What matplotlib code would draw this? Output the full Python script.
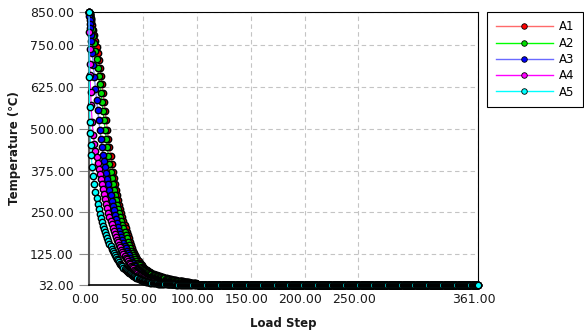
import matplotlib
matplotlib.use('Agg')
import matplotlib.pyplot as plt
from matplotlib.lines import Line2D
from matplotlib.transforms import ScaledTranslation

plt.rcParams['font.family'] = ['DejaVu Sans']

# ---------------- data ----------------
series_names = ['A1', 'A2', 'A3', 'A4', 'A5']
marker_colors = ['#ff0000', '#00dd00', '#0000ff', '#ff00ff', '#00ffff']
line_colors = ['#ff6a6a', '#00ff00', '#6a6aff', '#ff00ff', '#00ffff']

head_steps = [0, 0.25, 0.5, 0.75, 1, 1.5] + list(range(2, 101))
tail_steps = list(range(101, 362))

a1_head = [850, 848, 846, 843, 840, 833, 825,
           811, 796, 780, 763, 745, 726, 705, 683, 659, 634,
           608, 581, 553, 525, 497, 470, 444, 419, 395, 372,
           352, 334, 317, 301, 286, 272, 259, 247, 235, 224,
           213, 202, 192, 182, 172, 162, 152, 143, 135, 128,
           121, 115, 109, 104, 99, 95, 91, 87, 84, 81,
           78, 76, 74, 72, 70, 68, 66, 65, 63, 62,
           61, 60, 59, 58, 57, 56, 55, 54, 53, 52,
           51, 50, 49.5, 49, 48, 47, 46.5, 46, 45.5, 45,
           44.5, 44, 43.5, 43, 42.5, 42, 41.5, 41, 40.5, 40,
           39.5, 39, 38.5, 38, 37.5, 37, 36.5, 36]

a2_head = [850, 847, 844, 841, 837, 829, 820,
           798, 779, 757, 733, 708, 683, 659, 634, 608, 581,
           553, 525, 497, 470, 444, 419, 395, 372, 352, 334,
           317, 301, 286, 272, 259, 247, 235, 224, 213, 202,
           192, 182, 172, 162, 152, 143, 135, 128, 121, 115,
           109, 104, 99, 95, 91, 87, 84, 81, 78, 76,
           74, 72, 70, 68, 66, 65, 63, 62, 61, 60,
           59, 58, 57, 56, 55, 54, 53, 52, 51, 50,
           49.5, 49, 48, 47, 46.5, 46, 45.5, 45, 44.5, 44,
           43.5, 43, 42.5, 42, 41.5, 41, 40.5, 40, 39.5, 39,
           38.5, 38, 37.5, 37, 36.5, 36, 35.5, 35]

a3_head = [850, 838, 826, 814, 802, 780, 762,
           728, 692, 655, 620, 587, 555, 525, 497, 470, 445,
           423, 403, 385, 368, 351, 334, 317, 301, 285, 270,
           256, 243, 230, 218, 206, 195, 185, 175, 166, 158,
           150, 142, 135, 128, 121, 114, 108, 102, 97, 92,
           88, 84, 80, 77, 74, 71, 68, 65, 62, 60,
           58, 56, 54, 52, 51, 49, 48, 47, 46, 45,
           44, 43, 42, 41, 40.5, 40, 39.5, 39, 38.5, 38,
           37.5, 37, 36.8, 36.5, 36.2, 36, 35.8, 35.5, 35.3, 35,
           35, 34.8, 34.6, 34.5, 34.4, 34.3, 34.2, 34, 34, 34,
           33.9, 33.8, 33.7, 33.6, 33.5, 33.5, 33.5, 33.5]

a4_head = [850, 790, 740, 695, 660, 610, 570,
           520, 482, 455, 435, 415, 397, 380, 364, 349, 334,
           319, 304, 290, 276, 262, 249, 237, 225, 214, 204,
           194, 185, 176, 168, 160, 152, 145, 138, 132, 126,
           120, 114, 109, 104, 99, 94, 90, 86, 82, 78,
           75, 72, 69, 66, 63, 61, 59, 57, 55, 53,
           51, 50, 48, 47, 46, 45, 44, 43, 42, 41,
           40.5, 40, 39.5, 39, 38.5, 38, 37.5, 37, 36.8, 36.5,
           36.2, 36, 35.8, 35.5, 35.3, 35, 35, 35, 34.8, 34.5,
           34.5, 34.5, 34.3, 34, 34, 34, 34, 34, 33.8, 33.5,
           33.5, 33.5, 33.5, 33.5, 33.5, 33.5, 33.5, 33.5]

a5_head = [850, 655, 566, 520, 487, 450, 421,
           385, 358, 335, 311, 292, 275, 260, 245, 232, 220,
           209, 199, 190, 181, 172, 164, 156, 148, 141, 135,
           129, 123, 117, 111, 106, 101, 96, 92, 88, 84,
           81, 78, 75, 72, 69, 67, 64, 62, 60, 58,
           56, 54, 52, 51, 49, 48, 47, 45, 44, 43,
           42, 41, 40, 39.5, 39, 38.5, 38, 37.5, 37.2, 37,
           36.5, 36, 35.8, 35.5, 35.2, 35, 34.8, 34.5, 34.3, 34,
           34, 34, 33.8, 33.5, 33.5, 33.5, 33.5, 33.5, 33.3, 33,
           33, 33, 33, 33, 33, 33, 33, 33, 33, 33,
           33, 33, 33, 33, 33, 33, 33, 33]

tail_temp = [33, 33, 33, 33, 33, 33, 33, 33, 33, 33, 33, 33, 33, 33, 33, 33, 33, 33, 33, 33,
             33, 33, 33, 33, 33, 33, 33, 33, 33, 33, 33, 33, 33, 33, 33, 33, 33, 33, 33, 33,
             33, 33, 33, 33, 33, 33, 33, 33, 33, 33, 33, 33, 33, 33, 33, 33, 33, 33, 33, 33,
             33, 33, 33, 33, 33, 33, 33, 33, 33, 33, 33, 33, 33, 33, 33, 33, 33, 33, 33, 33,
             33, 33, 33, 33, 33, 33, 33, 33, 33, 33, 33, 33, 33, 33, 33, 33, 33, 33, 33, 33,
             33, 33, 33, 33, 33, 33, 33, 33, 33, 33, 33, 33, 33, 33, 33, 33, 33, 33, 33, 33,
             33, 33, 33, 33, 33, 33, 33, 33, 33, 33, 33, 33, 33, 33, 33, 33, 33, 33, 33, 33,
             33, 33, 33, 33, 33, 33, 33, 33, 33, 33, 33, 33, 33, 33, 33, 33, 33, 33, 33, 33,
             33, 33, 33, 33, 33, 33, 33, 33, 33, 33, 33, 33, 33, 33, 33, 33, 33, 33, 33, 33,
             33, 33, 33, 33, 33, 33, 33, 33, 33, 33, 33, 33, 33, 33, 33, 33, 33, 33, 33, 33,
             33, 33, 33, 33, 33, 33, 33, 33, 33, 33, 33, 33, 33, 33, 33, 33, 33, 33, 33, 33,
             33, 33, 33, 33, 33, 33, 33, 33, 33, 33, 33, 33, 33, 33, 33, 33, 33, 33, 33, 33,
             33, 33, 33, 33, 33, 33, 33, 33, 33, 33, 33, 33, 33, 33, 33, 33, 33, 33, 33, 33,
             33]

x_ticks = [0, 50, 100, 150, 200, 250, 361]
y_ticks = [32, 125, 250, 375, 500, 625, 750, 850]
x_label = 'Load Step'
y_label = 'Temperature (\u2103)'

heads = [a1_head, a2_head, a3_head, a4_head, a5_head]

# ---------------- figure ----------------
W, H = 584, 333
fig = plt.figure(figsize=(W / 100, H / 100), dpi=100)
ax = fig.add_axes([89 / W, 1 - 285 / H, 389 / W, 273 / H])

steps = head_steps + tail_steps
for i, (name, head) in enumerate(zip(series_names, heads)):
    temps = head + tail_temp
    ax.plot(steps, temps, color=line_colors[i], lw=0.8, marker='o', ms=4.6,
            mfc=marker_colors[i], mec='black', mew=1.0, clip_on=False,
            zorder=3 + i, label=name)

ax.set_xlim(0, 361)
ax.set_ylim(32, 850)
ax.set_xticks(x_ticks)
ax.set_xticklabels([f'{v:.2f}' for v in x_ticks])
ax.set_yticks(y_ticks)
ax.set_yticklabels([f'{v:.2f}' for v in y_ticks])

ax.tick_params(axis='y', length=7, width=0.8, color='#8a8a8a', pad=4,
               labelsize=9, labelcolor='#1a1a1a')
ax.tick_params(axis='x', length=0, pad=6, labelsize=9, labelcolor='#1a1a1a')
off = ScaledTranslation(-4 / 100, 0, fig.dpi_scale_trans)
for lab in ax.get_xticklabels():
    lab.set_transform(lab.get_transform() + off)

ax.grid(True, linestyle=(0, (4, 3)), color='#c4c4c4', lw=0.8)
ax.set_axisbelow(True)

ax.spines['left'].set_color('#5a5a5a')
ax.spines['left'].set_linewidth(1.5)
ax.spines['bottom'].set_color('black')
ax.spines['bottom'].set_linewidth(1.2)
ax.spines['top'].set_color('black')
ax.spines['top'].set_linewidth(0.8)
ax.spines['right'].set_color('black')
ax.spines['right'].set_linewidth(0.8)

fig.text(283 / W, 1 - 323 / H, x_label, ha='center', va='center',
         fontsize=8.5, fontweight='bold', color='#1a1a1a')
fig.text(15 / W, 1 - 148.5 / H, y_label, ha='center', va='center',
         rotation=90, fontsize=8.5, fontweight='bold', color='#1a1a1a')

handles = [Line2D([], [], color=line_colors[i], lw=1, marker='o', ms=4,
                  mfc=marker_colors[i], mec='black', mew=0.6)
           for i in range(len(series_names))]
leg = fig.legend(handles, series_names, loc='upper left',
                 bbox_to_anchor=(487 / W, 1 - 11.5 / H),
                 bbox_transform=fig.transFigure, frameon=True, fancybox=False,
                 edgecolor='black', framealpha=1, borderaxespad=0,
                 fontsize=8.5, handlelength=4.8, handletextpad=0.5,
                 labelspacing=0.28, borderpad=0.75)
leg.get_frame().set_linewidth(0.8)

fig.savefig('out.png', dpi=100)
